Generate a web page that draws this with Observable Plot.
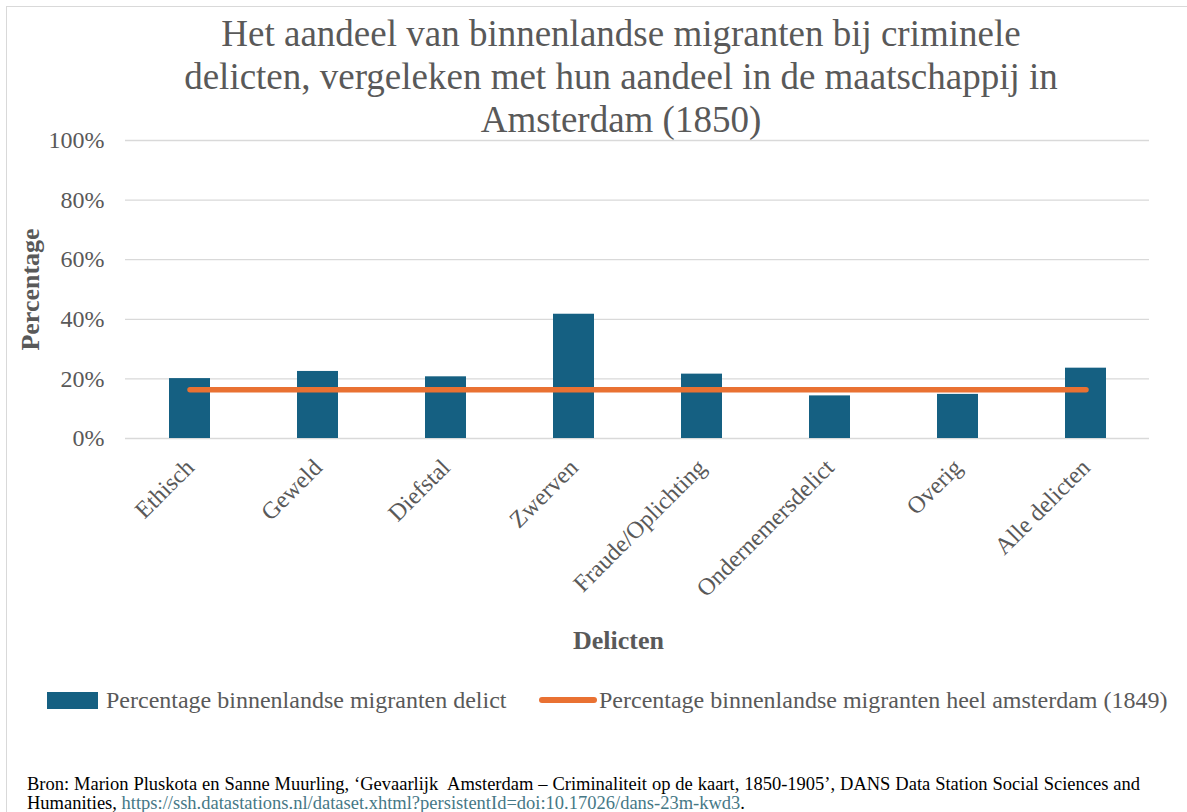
<!DOCTYPE html>
<html><head><meta charset="utf-8">
<script src="https://cdn.jsdelivr.net/npm/d3@7"></script>
<script src="https://cdn.jsdelivr.net/npm/@observablehq/plot@0.6"></script>
<style>
html,body{margin:0;padding:0;overflow:hidden;background:#fff;width:1187px;height:812px}
#page{position:relative;width:1187px;height:812px;overflow:hidden;font-family:"Liberation Serif","Times New Roman",serif;background:#fff}
#frame{position:absolute;left:6px;top:6px;width:1210px;height:830px;border:1.5px solid #d9d9d9;box-sizing:border-box}
#title{position:absolute;left:121px;width:1000px;top:12px;text-align:center;font-size:37px;line-height:43px;color:#595959}
#chart{position:absolute;left:0;top:125px}
.leg{position:absolute;font-size:24px;line-height:24px;color:#595959;white-space:nowrap}
#cap1{position:absolute;left:27px;top:775px;width:1113px;font-size:18.5px;line-height:19px;color:#000;text-align:justify;text-align-last:justify;white-space:nowrap}
#cap2{position:absolute;left:27px;top:794px;font-size:18.5px;line-height:19px;color:#000;white-space:nowrap}
#cap2 a{color:#467886;text-decoration:none}
</style>
</head><body>
<div id="page">
  <div id="frame"></div>
  <div id="title">Het aandeel van binnenlandse migranten bij criminele<br>delicten, vergeleken met hun aandeel in de maatschappij in<br>Amsterdam (1850)</div>
  <div id="chart"></div>
  <div style="position:absolute;left:47px;top:692px;width:51px;height:17px;background:#156082"></div>
  <div class="leg" id="leg1" style="left:106px;top:688px"></div>
  <div style="position:absolute;left:539px;top:697px;width:58px;height:6px;border-radius:3px;background:#E97132"></div>
  <div class="leg" id="leg2" style="left:599px;top:688px"></div>
  <div id="cap1">Bron: Marion Pluskota en Sanne Muurling, ‘Gevaarlijk&nbsp; Amsterdam – Criminaliteit op de kaart, 1850-1905’, DANS Data Station Social Sciences and</div>
  <div id="cap2">Humanities, <a>https://ssh.datastations.nl/dataset.xhtml?persistentId=doi:10.17026/dans-23m-kwd3</a>.</div>
</div>
<script>
const categories = ["Ethisch", "Geweld", "Diefstal", "Zwerven", "Fraude/Oplichting", "Ondernemersdelict", "Overig", "Alle delicten"];
const delictShare = [0.201, 0.225, 0.207, 0.417, 0.216, 0.143, 0.148, 0.236];
const amsterdamShare = [0.164, 0.164, 0.164, 0.164, 0.164, 0.164, 0.164, 0.164];
const yTicks = [0, 0.2, 0.4, 0.6, 0.8, 1.0];
const seriesNames = ["Percentage binnenlandse migranten delict", "Percentage binnenlandse migranten heel amsterdam (1849)"];
const yTitle = "Percentage";
const xTitle = "Delicten";

document.getElementById("leg1").textContent = seriesNames[0];
document.getElementById("leg2").textContent = seriesNames[1];

const data = categories.map((c, i) => ({categorie: c, delict: delictShare[i], amsterdam: amsterdamShare[i]}));
const font = '"Liberation Serif", "Times New Roman", serif';

const chart = Plot.plot({
  width: 1187,
  height: 540,
  marginTop: 15,
  marginBottom: 227,
  marginLeft: 125,
  marginRight: 38,
  style: {fontFamily: font, fontSize: "24px", color: "#595959", background: "transparent", overflow: "visible"},
  x: {domain: categories, paddingInner: 0.68, paddingOuter: 0.34, label: null},
  y: {domain: [0, 1], label: null},
  marks: [
    Plot.gridY(yTicks, {stroke: "#d9d9d9", strokeOpacity: 1, strokeWidth: 1.3}),
    Plot.barY(data, {x: "categorie", y: "delict", fill: "#156082"}),
    Plot.line(data, {x: "categorie", y: "amsterdam", stroke: "#E97132", strokeWidth: 5.5, strokeLinecap: "round"}),
    Plot.axisY(yTicks, {tickFormat: d3.format(".0%"), tickSize: 0, tickPadding: 21, fontSize: 24, fill: "#595959", label: null}),
    Plot.axisX({tickRotate: -45, tickSize: 0, tickPadding: 25, dx: 0, textAnchor: "end", lineAnchor: "middle", fontSize: 24, fill: "#595959", label: null}),
    Plot.text([yTitle], {text: d => d, frameAnchor: "left", dx: -95, rotate: -90, textAnchor: "middle", fontWeight: "bold", fontSize: 26, fill: "#595959", lineAnchor: "middle"}),
    Plot.text([xTitle], {text: d => d, frameAnchor: "bottom", dx: -19, dy: 202, textAnchor: "middle", fontWeight: "bold", fontSize: 26, fill: "#595959", lineAnchor: "middle"})
  ]
});
document.getElementById("chart").appendChild(chart);
</script>
</body></html>
